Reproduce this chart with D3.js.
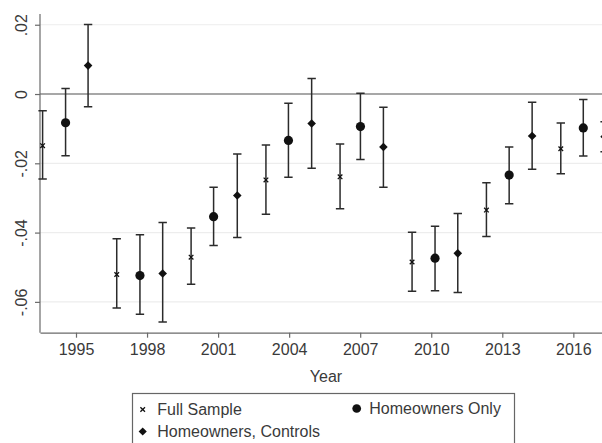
<!DOCTYPE html>
<html>
<head>
<meta charset="utf-8">
<script src="https://cdn.jsdelivr.net/npm/d3@7"></script>
<style>
  html, body { margin: 0; padding: 0; background: #fff; }
  svg { display: block; font-family: "Liberation Sans", Arial, sans-serif; }
</style>
</head>
<body>
<svg id="chart" width="602" height="443"></svg>
<script>
// Estimates with 95% confidence intervals, one array per sample
const fullYears = [1993.59, 1996.72, 1999.86, 2003.02, 2006.15, 2009.19, 2012.33, 2015.47];
const fullEst   = [-0.0149, -0.0521, -0.0471, -0.0248, -0.0239, -0.0485, -0.0335, -0.0158];
const fullHi    = [-0.0048, -0.0418, -0.0387, -0.0147, -0.0144, -0.0399, -0.0256, -0.0084];
const fullLo    = [-0.0245, -0.0618, -0.0549, -0.0347, -0.0331, -0.0569, -0.0411, -0.0230];

const ownYears = [1994.56, 1997.70, 2000.81, 2003.97, 2007.01, 2010.16, 2013.29, 2016.42];
const ownEst   = [-0.0083, -0.0524, -0.0354, -0.0134, -0.0094, -0.0474, -0.0234, -0.0098];
const ownHi    = [ 0.0016, -0.0406, -0.0269, -0.0027,  0.0002, -0.0382, -0.0153, -0.0016];
const ownLo    = [-0.0178, -0.0636, -0.0437, -0.0240, -0.0189, -0.0568, -0.0317, -0.0179];

const ctlYears = [1995.51, 1998.66, 2001.81, 2004.95, 2007.98, 2011.12, 2014.26, 2017.32];
const ctlEst   = [ 0.0082, -0.0518, -0.0293, -0.0085, -0.0153, -0.0460, -0.0121, -0.0123];
const ctlHi    = [ 0.0201, -0.0371, -0.0173,  0.0045, -0.0038, -0.0345, -0.0024, -0.0080];
const ctlLo    = [-0.0037, -0.0658, -0.0414, -0.0214, -0.0269, -0.0573, -0.0217, -0.0167];

const xTicks = [1995, 1998, 2001, 2004, 2007, 2010, 2013, 2016];
const yTicks = [0.02, 0, -0.02, -0.04, -0.06];
const yTickLabels = [".02", "0", "-.02", "-.04", "-.06"];

const seriesNames = ["Full Sample", "Homeowners Only", "Homeowners, Controls"];

const series = [
  { name: seriesNames[0], shape: "x",       years: fullYears, est: fullEst, hi: fullHi, lo: fullLo },
  { name: seriesNames[1], shape: "circle",  years: ownYears,  est: ownEst,  hi: ownHi,  lo: ownLo },
  { name: seriesNames[2], shape: "diamond", years: ctlYears,  est: ctlEst,  hi: ctlHi,  lo: ctlLo }
];

const svg = d3.select("#chart");
const plot = { left: 40, right: 602, top: 14, bottom: 332.7 };

const x = d3.scaleLinear().domain([1993.48, 2017.21]).range([plot.left, plot.right]);
const y = d3.scaleLinear().domain([0.0231, -0.0689]).range([plot.top, plot.bottom]);

const ink = "#2b2b2b";
const textColor = "#3a3a3a";

// horizontal grid lines
svg.append("g").selectAll("line")
  .data(yTicks.filter(d => d !== 0))
  .join("line")
  .attr("x1", plot.left).attr("x2", plot.right)
  .attr("y1", d => y(d)).attr("y2", d => y(d))
  .attr("stroke", "#ededed").attr("stroke-width", 1.2);

// reference line at zero
svg.append("line")
  .attr("x1", plot.left).attr("x2", plot.right)
  .attr("y1", y(0)).attr("y2", y(0))
  .attr("stroke", "#8a8a8a").attr("stroke-width", 1.5);

// y axis with labels turned to read upward
const yAxis = d3.axisLeft(y)
  .tickValues(yTicks)
  .tickFormat((d, i) => yTickLabels[i])
  .tickSize(5).tickSizeOuter(0).tickPadding(9);
const gy = svg.append("g").attr("transform", `translate(${plot.left},0)`).call(yAxis);
gy.select(".domain").attr("d", `M0,${plot.top}V${plot.bottom}`);
gy.selectAll("text")
  .attr("x", null).attr("y", null).attr("dy", null)
  .attr("text-anchor", "middle")
  .attr("transform", "translate(-13,0) rotate(-90)");

// x axis
const xAxis = d3.axisBottom(x)
  .tickValues(xTicks)
  .tickFormat(d3.format("d"))
  .tickSize(5).tickSizeOuter(0).tickPadding(6);
const gx = svg.append("g").attr("transform", `translate(0,${plot.bottom})`).call(xAxis);

[gx, gy].forEach(g => {
  g.select(".domain").attr("stroke", "#6a6a6a").attr("stroke-width", 1.2);
  g.selectAll(".tick line").attr("stroke", "#6a6a6a").attr("stroke-width", 1.2);
  g.selectAll("text").attr("fill", textColor).attr("font-size", 16)
    .attr("font-family", "'Liberation Sans', Arial, sans-serif");
});

// axis title
svg.append("text")
  .attr("x", 326).attr("y", 381.5)
  .attr("text-anchor", "middle")
  .attr("font-size", 16).attr("fill", textColor)
  .text("Year");

// marker drawing helper
function drawMarker(g, shape, cx, cy, scale) {
  const s = scale || 1;
  if (shape === "circle") {
    g.append("circle").attr("cx", cx).attr("cy", cy).attr("r", 4.6 * s).attr("fill", "#111");
  } else if (shape === "diamond") {
    const r = 4.3 * s;
    g.append("path")
      .attr("d", `M${cx},${cy - r}L${cx + r},${cy}L${cx},${cy + r}L${cx - r},${cy}Z`)
      .attr("fill", "#111");
  } else {
    const r = 2.3 * s;
    g.append("path")
      .attr("d", `M${cx - r},${cy - r}L${cx + r},${cy + r}M${cx - r},${cy + r}L${cx + r},${cy - r}`)
      .attr("stroke", "#111").attr("stroke-width", 1.3).attr("fill", "none");
  }
}

// error bars and point estimates
const capHalf = 4.2;
series.forEach(s => {
  const rows = s.years.map((yr, i) => ({ yr, est: s.est[i], hi: s.hi[i], lo: s.lo[i] }));
  const g = svg.append("g");
  rows.forEach(r => {
    const cx = x(r.yr);
    g.append("path")
      .attr("d",
        `M${cx},${y(r.hi)}V${y(r.lo)}` +
        `M${cx - capHalf},${y(r.hi)}H${cx + capHalf}` +
        `M${cx - capHalf},${y(r.lo)}H${cx + capHalf}`)
      .attr("stroke", ink).attr("stroke-width", 1.5).attr("fill", "none");
    drawMarker(g, s.shape, cx, y(r.est));
  });
});

// legend
const legend = svg.append("g");
legend.append("rect")
  .attr("x", 132.5).attr("y", 393.5)
  .attr("width", 382).attr("height", 80)
  .attr("fill", "#fff").attr("stroke", "#666").attr("stroke-width", 1.2);

const legendPos = [
  { mx: 142.7, my: 409.5, tx: 157.3, ty: 415 },
  { mx: 356.7, my: 408.5, tx: 369.3, ty: 414 },
  { mx: 142.7, my: 431.5, tx: 157.3, ty: 437 }
];
series.forEach((s, i) => {
  const p = legendPos[i];
  drawMarker(legend, s.shape, p.mx, p.my, s.shape === "x" ? 1 : 0.95);
  legend.append("text")
    .attr("x", p.tx).attr("y", p.ty)
    .attr("font-size", 16).attr("fill", textColor)
    .text(s.name);
});
</script>
</body>
</html>
